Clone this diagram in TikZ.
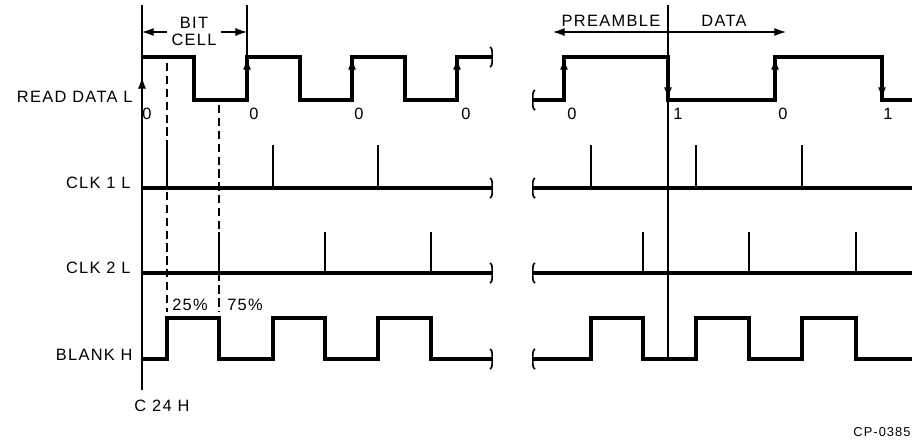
\documentclass[tikz,border=0pt]{standalone}
\usepackage{fontspec}
\setmainfont[LetterSpace=8]{Liberation Sans}
\usetikzlibrary{arrows.meta}
\tikzset{lbl/.style={font=\fontsize{14}{16}\selectfont, inner sep=1pt},
 bit/.style={font=\fontsize{14}{14.5}\selectfont, inner sep=0pt, inner xsep=4pt, align=center},
 wave/.style={line width=2.6pt},
 pulse/.style={line width=2pt},
 guide/.style={line width=1pt},
 cut/.style={line width=1pt, dash pattern=on 7pt off 4pt},
 edgeup/.style={line width=2.6pt, -{Latex[length=10pt,width=7pt]}},
 dim/.style={line width=1pt, -{Latex[length=10pt,width=7pt]}},
 brk/.pic={\draw[line width=1.4pt] (-2,-10) .. controls (1,-9) and (0,-3) .. (0,0) .. controls (0,3) and (1,9) .. (-2,10);},
 }

\begin{document}
\begin{tikzpicture}[x=0.03cm, y=-0.03cm]
    \useasboundingbox (0,0) rectangle (914,440);
    % time marks
    \draw[guide] (142,5) -- (142,390);
    \draw[guide] (247,5) -- (247,57);
    \draw[guide] (668,5) -- (668,360);
    \draw[cut] (167,63) -- (167,312);
    \draw[cut] (219,105) -- (219,312);

    % read data
    \draw[wave] (142,57) -- (194,57) -- (194,100) -- (247,100) -- (247,57) -- (300,57) -- (300,100)
        -- (352,100) -- (352,57) -- (405,57) -- (405,100) -- (457,100) -- (457,57) -- (492,57);
    \draw[wave] (533,100) -- (564,100) -- (564,57) -- (668,57) -- (668,100) -- (775,100) -- (775,57)
        -- (882,57) -- (882,100) -- (912,100);
    \draw[edgeup, line width=1pt] (142,92) -- (142,77);
    \foreach \x in {247,352,457,564,775}
        \draw[edgeup] (\x,84) -- (\x,58);
    \foreach \x in {668,882}
        \draw[edgeup] (\x,73) -- (\x,99);
    \foreach \x/\b [count=\i] in {147/0, 254/0, 359/0, 466/0, 572/0, 678/1, 783/0, 888/1}
        \node[lbl] (val\i) at (\x, 114) {\b};

    % clocks
    \draw[wave] (142,188) -- (492,188);
    \draw[wave] (533,188) -- (912,188);
    \foreach \x in {167,273,378,591,696,802}
        \draw[pulse] (\x,188) -- (\x,145);
    \draw[wave] (142,273) -- (492,273);
    \draw[wave] (533,273) -- (912,273);
    \foreach \x in {219,325,431,643,749,856}
        \draw[pulse] (\x,273) -- (\x,232);

    % blank
    \draw[wave] (142,359) -- (167,359) -- (167,318) -- (219,318) -- (219,359) -- (273,359) -- (273,318)
        -- (325,318) -- (325,359) -- (378,359) -- (378,318) -- (431,318) -- (431,359) -- (492,359);
    \draw[wave] (533,359) -- (591,359) -- (591,318) -- (643,318) -- (643,359) -- (696,359) -- (696,318)
        -- (749,318) -- (749,359) -- (802,359) -- (802,318) -- (856,318) -- (856,359) -- (912,359);

    % breaks
    \foreach \y in {57,188,273,359}
        \pic at (492,\y) {brk};
    \foreach \y in {100,188,273,359}
        \pic[xscale=-1] at (533,\y) {brk};

    % names
    \node[lbl, anchor=east] (readdata) at (134,97) {READ DATA L};
    \node[lbl, anchor=east] (clkone) at (132,183) {CLK 1 L};
    \node[lbl, anchor=east] (clktwo) at (132,268) {CLK 2 L};
    \node[lbl, anchor=east] (blank) at (134,355) {BLANK H};
    \node[lbl, anchor=west] (cfour) at (133,406) {C 24 H};
    \node[lbl] (early) at (190,305) {25\%};
    \node[lbl] (late) at (245,305) {75\%};

    % bit cell and preamble
    \coordinate (cellL) at (142,32);
    \coordinate (cellR) at (247,32);
    \node[bit] (bitcell) at (194,31.5) {BIT\\CELL};
    \draw[dim] (bitcell.west |- cellL) -- (cellL);
    \draw[dim] (bitcell.east |- cellR) -- (cellR);
    \coordinate (split) at (668,32);
    \coordinate (preL) at (553,32);
    \coordinate (dataR) at (786,32);
    \node[lbl] (preamble) at (611,21) {PREAMBLE};
    \node[lbl] (data) at (724,21) {DATA};
    \draw[dim] (split) -- (preL);
    \draw[dim] (split) -- (dataR);

    \node[lbl, font=\fontsize{11}{12}\selectfont] (cp) at (882,432) {CP-0385};
\end{tikzpicture}
\end{document}
